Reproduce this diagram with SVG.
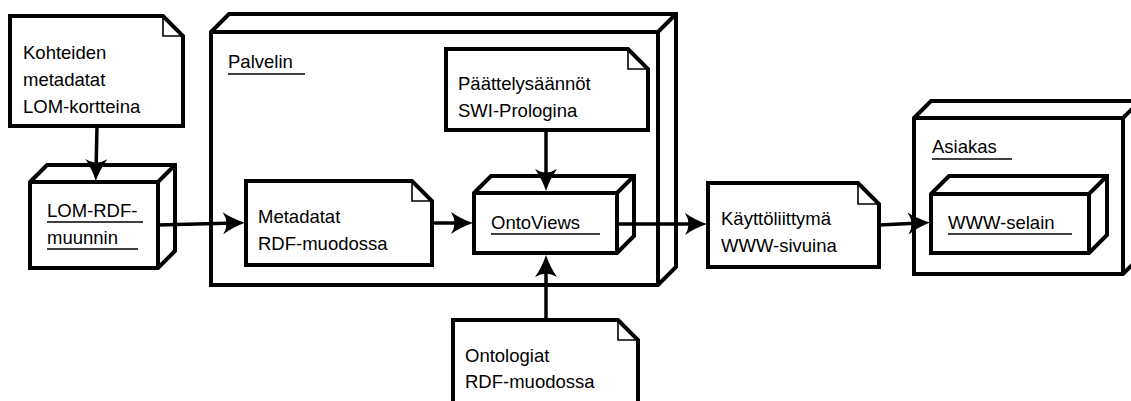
<svg xmlns="http://www.w3.org/2000/svg" width="1131" height="401" viewBox="0 0 1131 401">
<defs>
<style>
.box{fill:#fff;stroke:#000;stroke-width:4;stroke-linejoin:miter}
.edge{fill:none;stroke:#000;stroke-width:4}
.fold{fill:none;stroke:#000;stroke-width:1.6}
.ul{stroke:#000;stroke-width:1.6}
.conn{fill:none;stroke:#000;stroke-width:3.5}
text{font-family:"Liberation Sans",Arial,sans-serif;font-size:18.5px;fill:#000}
</style>
<marker id="ah" viewBox="-14 -13 26 26" refX="0" refY="0" markerWidth="26" markerHeight="26" markerUnits="userSpaceOnUse" orient="auto">
<path d="M10,0 Q-2,-4 -12,-11 Q-5,0 -12,11 Q-2,4 10,0 Z" fill="#000"/>
</marker>
</defs>

<g id="palvelin">
<path class="box" d="M211,32 L229,14 L676,14 L676,267 L658,285 L211,285 Z"/>
<path class="edge" d="M211,32 L658,32 L676,14 M658,32 L658,285"/>
<text x="228" y="68">Palvelin</text>
<line class="ul" x1="228" y1="74" x2="305" y2="74"/>
</g>

<g id="asiakas">
<path class="box" d="M914,118 L931,101 L1140,101 L1140,257 L1123,274 L914,274 Z"/>
<path class="edge" d="M914,118 L1123,118 L1140,101 M1123,118 L1123,274"/>
<text x="932" y="153">Asiakas</text>
<line class="ul" x1="932" y1="159" x2="1012" y2="159"/>
</g>

<g id="kohteiden">
<path class="box" d="M10,16 H163 L183,36 V126 H10 Z"/>
<path class="fold" d="M163,16 V36 H183"/>
<text x="23" y="59">Kohteiden</text>
<text x="23" y="86">metadatat</text>
<text x="23" y="113">LOM-kortteina</text>
</g>

<g id="lomrdf">
<path class="box" d="M30,182 L47,165 L175,165 L175,251 L158,268 L30,268 Z"/>
<path class="edge" d="M30,182 L158,182 L175,165 M158,182 L158,268"/>
<text x="47" y="217">LOM-RDF-</text>
<line class="ul" x1="47" y1="222" x2="143" y2="222"/>
<text x="47" y="244">muunnin</text>
<line class="ul" x1="47" y1="249" x2="138" y2="249"/>
</g>

<g id="paattely">
<path class="box" d="M446,49 H628 L648,69 V130 H446 Z"/>
<path class="fold" d="M628,49 V69 H648"/>
<text x="458" y="90">Päättelysäännöt</text>
<text x="458" y="117">SWI-Prologina</text>
</g>

<g id="metadatat">
<path class="box" d="M246,181 H412 L432,201 V265 H246 Z"/>
<path class="fold" d="M412,181 V201 H432"/>
<text x="258" y="223">Metadatat</text>
<text x="258" y="250">RDF-muodossa</text>
</g>

<g id="ontoviews">
<path class="box" d="M474,193 L491,176 L634,176 L634,236 L617,253 L474,253 Z"/>
<path class="edge" d="M474,193 L617,193 L634,176 M617,193 L617,253"/>
<text x="491" y="229">OntoViews</text>
<line class="ul" x1="491" y1="234" x2="600" y2="234"/>
</g>

<g id="ontologiat">
<path class="box" d="M453,320 H618 L638,340 V410 H453 Z"/>
<path class="fold" d="M618,320 V340 H638"/>
<text x="465" y="362">Ontologiat</text>
<text x="465" y="388">RDF-muodossa</text>
</g>

<g id="kayttoliittyma">
<path class="box" d="M708,183 H858 L879,204 V267 H708 Z"/>
<path class="fold" d="M858,183 V204 H879"/>
<text x="721" y="225">Käyttöliittymä</text>
<text x="721" y="252">WWW-sivuina</text>
</g>

<g id="selain">
<path class="box" d="M931,194 L949,176 L1107,176 L1107,235 L1089,253 L931,253 Z"/>
<path class="edge" d="M931,194 L1089,194 L1107,176 M1089,194 L1089,253"/>
<text x="948" y="229">WWW-selain</text>
<line class="ul" x1="948" y1="234" x2="1072" y2="234"/>
</g>

<g id="connectors">
<path class="conn" marker-end="url(#ah)" d="M97,126 L96,171"/>
<path class="conn" marker-end="url(#ah)" d="M158,225 L235,223"/>
<path class="conn" marker-end="url(#ah)" d="M432,223 L463,223"/>
<path class="conn" marker-end="url(#ah)" d="M546,130 L546,181"/>
<path class="conn" marker-end="url(#ah)" d="M546,320 L546,265"/>
<path class="conn" marker-end="url(#ah)" d="M617,224 L697,224"/>
<path class="conn" marker-end="url(#ah)" d="M879,225 L920,223"/>
</g>
</svg>
